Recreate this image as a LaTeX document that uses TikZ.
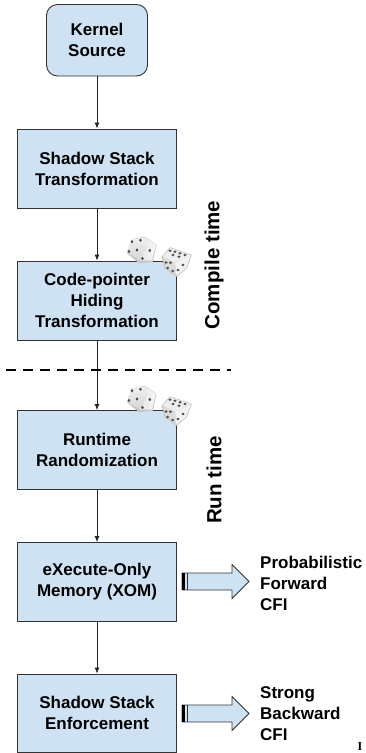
\documentclass[tikz,border=0pt]{standalone}
\usepackage{fontspec}
\setmainfont{Liberation Sans}
\newfontfamily\serifpart{Liberation Serif}
\usetikzlibrary{arrows.meta,positioning}
\definecolor{boxblue}{HTML}{CFE2F3}
\definecolor{boxedge}{HTML}{333333}
\tikzset{
    stagebox/.style = {draw = boxedge, fill = boxblue, line width = 0.9pt, minimum width = 159pt, minimum height = 79pt, align = center, inner sep = 0pt, font = \bfseries\fontsize{17}{21}\selectfont},
    sidelabel/.style = {rotate = 90, inner sep = 0pt, font = \bfseries\fontsize{20.5}{24}\selectfont},
    outcome/.style = {anchor = west, align = left, inner sep = 0pt, font = \bfseries\fontsize{17}{21}\selectfont},
    flow/.style = {-{Latex[length = 6pt, width = 5pt]}, line width = 0.8pt, draw = black!85},
    pip/.style = {fill = black!70, draw = none},
    pics/fatarrow/.style = {code = {
        \filldraw[fill = boxblue, draw = boxedge, line width = 0.8pt] (0,-8.5) -- (50,-8.5) -- (50,-17) -- (67,0) -- (50,17) -- (50,8.5) -- (0,8.5) -- cycle;
        \draw[black, line width = 3pt] (1.5,-8.5) -- (1.5,8.5);
        \draw[boxedge, line width = 1pt] (5.5,-8.5) -- (5.5,8.5);
    }},
    pics/dicepair/.style = {code = {
        % left die
        \fill[black!22] (-10.3,-10.7) -- (3,-13.3) -- (14.7,-5) -- (10.7,11.7) -- (-2.7,13.3) -- (-15.3,3.3) -- cycle;
        \shade[top color = black!6, bottom color = black!16] (-10.3,-10.7) -- (3,-12.6) -- (4.5,-3) -- (-1.5,10.5) -- (-15,2.8) -- cycle;
        \shade[left color = black!10, right color = black!3] (3,-12.6) -- (14,-5) -- (10,10.5) -- (-1.5,10.5) -- (4.5,-3) -- cycle;
        \foreach \px/\py in {-10/-8.3,-1.5/-9.8,-13/1.5,-5/0,7.8/0.5,0.5/8.5}
            \fill[pip] (\px,\py) ellipse (1.4 and 1.7);
        % right die
        \fill[black!30] (19.7,6.7) -- (28,-2.7) -- (49.7,5) -- (44.7,18.3) -- (34.7,26.7) -- (23,18.3) -- cycle;
        \fill[black!7] (20.5,6.5) -- (28.3,-2) -- (49,5.2) -- (33,13) -- cycle;
        \fill[black!14] (20.5,6.5) -- (33,13) -- (34.5,26) -- (23.4,17.8) -- cycle;
        \fill[black!5] (33,13) -- (49,5.2) -- (44.2,18) -- (34.5,26) -- cycle;
        \foreach \px/\py in {28/0.7,33/1.7,38/3.3,31/5,37/6.7,43/5,24/12.5,28.5/12.7,25.7/18,30.7/21,41/15,36/20}
            \fill[pip] (\px,\py) ellipse (1.6 and 1.3);
    }}
}
\begin{document}
\begin{tikzpicture}[x = 1pt, y = -1pt]
        \useasboundingbox (0,0) rectangle (365,753);

        % Stages
        \node[stagebox, rounded corners = 11pt, minimum width = 101pt, minimum height = 71.5pt] (kernel) at (97,40.25) {Kernel\\Source};
        \node[stagebox] (shadow) at (97,168.5) {Shadow Stack\\Transformation};
        \node[stagebox] (hiding) at (97,300.5) {Code-pointer\\Hiding\\Transformation};
        \node[stagebox] (runtime) at (97,450) {Runtime\\Randomization};
        \node[stagebox] (xom) at (97,582) {eXecute-Only\\Memory (XOM)};
        \node[stagebox, minimum height = 78pt] (enforce) at (97,713) {Shadow Stack\\Enforcement};

        % Connectors
        \draw[flow] (kernel) -- (shadow);
        \draw[flow] (shadow) -- (hiding);
        \draw[flow] (hiding) -- (runtime);
        \draw[flow] (runtime) -- (xom);
        \draw[flow] (xom) -- (enforce);

        % Split between the two phases
        \coordinate (splitl) at (6,370);
        \coordinate (splitr) at (231,370);
        \draw[dashed, line width = 1.5pt, dash pattern = on 10pt off 7pt] (splitl) -- (splitr);

        \node[sidelabel] (compile) at (214,265) {Compile time};
        \node[sidelabel] (run) at (214,480) {Run time};

        % Dice
        \pic (dicea) at (142,250) {dicepair};
        \pic (diceb) at (142,399) {dicepair};

        % Outcomes
        \pic (fwdarrow) at (182,581.5) {fatarrow};
        \pic (bwdarrow) at (182,713.5) {fatarrow};
        \node[outcome] (fwd) at (260,583) {Probabilistic\\Forward\\CFI};
        \node[outcome] (bwd) at (260,714) {Strong\\Backward\\CFI};

        \node[anchor = base, inner sep = 0pt, font = \serifpart\bfseries\fontsize{12}{15}\selectfont] (cut) at (360,750.5) {I};
    \end{tikzpicture}
\end{document}
